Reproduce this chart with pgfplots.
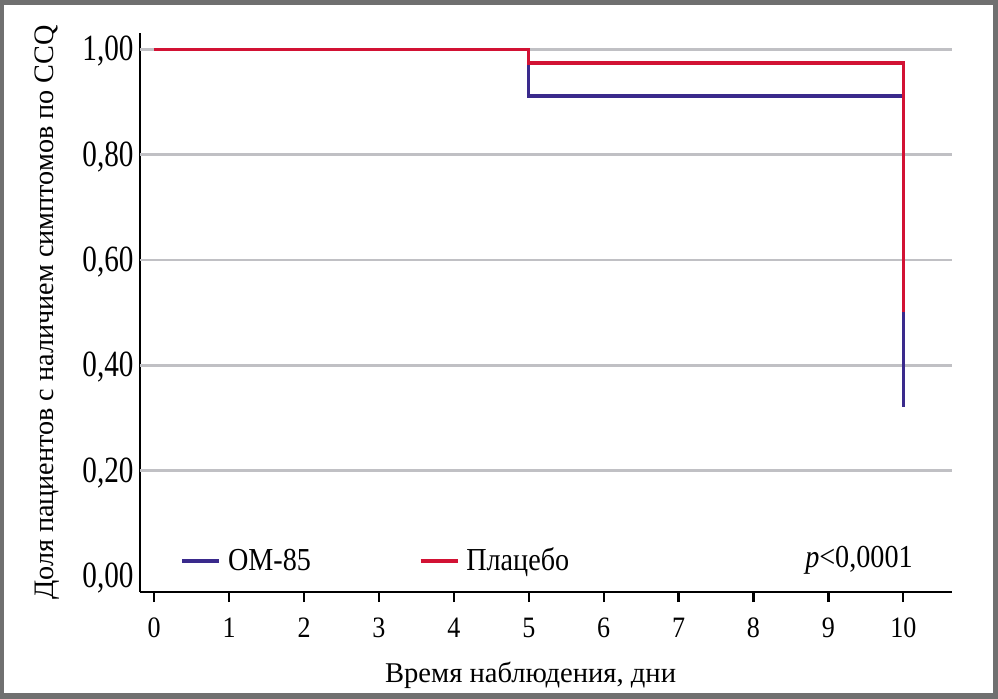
\documentclass[border=0pt]{standalone}
\usepackage{fontspec}
\setmainfont{Liberation Serif}
\newfontfamily\ytf{Liberation Serif}[FakeStretch=0.79]
\newfontfamily\xtf{Liberation Serif}[FakeStretch=0.88]
\newfontfamily\lgf{Liberation Serif}[FakeStretch=0.88]
\usepackage{pgfplots}
\pgfplotsset{compat=1.18}
\definecolor{omblue}{RGB}{58,42,140}
\definecolor{plred}{RGB}{210,18,52}
\definecolor{gridgray}{RGB}{192,192,196}
\definecolor{framegray}{RGB}{112,112,112}
\begin{document}
\begin{tikzpicture}
\fill[framegray] (0bp,0bp) rectangle (499bp,349.5bp);
\fill[white] (2.2bp,3bp) rectangle (496.5bp,347bp);
\useasboundingbox (0bp,0bp) rectangle (499bp,349.5bp);
\begin{axis}[
  at={(70bp,53.5bp)}, anchor=south west,
  scale only axis, width=406bp, height=279.5bp,
  xmin=-0.19, xmax=10.65, ymin=-0.0304, ymax=1.0313,
  axis x line*=bottom, axis y line*=left,
  axis line style={line width=1.35bp, black},
  xtick={0,1,2,3,4,5,6,7,8,9,10},
  ytick={0,0.2,0.4,0.6,0.8,1},
  extra y ticks={0.2,0.4,0.6,0.8,1},
  extra y tick labels={},
  extra y tick style={ymajorgrids=true, major tick length=0pt},
  major grid style={line width=1.3bp, gridgray},
  x tick style={line width=1.1bp, black},
  y tick style={draw=none},
  tick align=outside,
  major tick length=5bp,
  /pgf/number format/assume math mode=true,
  yticklabel style={font=\ytf\fontsize{18.5bp}{21bp}\selectfont, inner xsep=1bp, xshift=3bp, yshift=-1bp,
    /pgf/number format/.cd, fixed, fixed zerofill, precision=2, use comma},
  xticklabel style={font=\xtf\fontsize{14.8bp}{17bp}\selectfont, anchor=base, yshift=-17.5bp},
  xlabel={Время наблюдения, дни},
  every axis x label/.style={at={(axis description cs:0.481,0)}, anchor=base, yshift=-45bp,
    font=\fontsize{14.3bp}{17bp}\selectfont},
  ylabel={Доля пациентов с наличием симптомов по CCQ},
  every axis y label/.style={at={(axis description cs:-0.107,0.5)}, rotate=90, anchor=base,
    font=\fontsize{14.1bp}{17bp}\selectfont},
  legend style={at={(axis cs:0.347,0.0285)}, anchor=west, draw=none, fill=none,
    legend columns=2, inner sep=0pt, font=\lgf\fontsize{16bp}{19bp}\selectfont,
    nodes={inner xsep=0pt, inner ysep=0pt},
    /tikz/every odd column/.append style={column sep=3.5bp},
    /tikz/every even column/.append style={column sep=54bp}},
  legend cell align=left,
  legend image code/.code={\draw[#1] (0bp,0bp) -- (18.5bp,0bp);},
  clip=false,
]
\addplot[const plot, omblue, line width=1.7bp] coordinates {(0,1) (5,0.912) (10,0.321)};
\addlegendentry{OM-85}
\addplot[const plot, plred, line width=1.7bp] coordinates {(0,1) (5,0.974) (10,0.501)};
\addlegendentry{Плацебо}
\node[anchor=base east, inner sep=0pt, font=\lgf\fontsize{16bp}{19bp}\selectfont] at (axis cs:10.13,0.0152) {\textit{p}<0,0001};
\end{axis}
\end{tikzpicture}
\end{document}
